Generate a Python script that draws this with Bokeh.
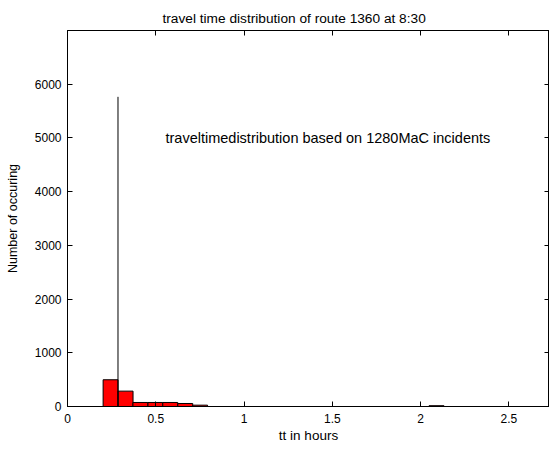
from bokeh.plotting import figure
from bokeh.models import LinearAxis, FixedTicker, Label, Range1d
from bokeh.embed import file_html
from bokeh.resources import INLINE

# ---- data ----
bin_centers = [0.244, 0.329, 0.413, 0.498, 0.582, 0.667, 0.751, 2.09]
bin_counts = [498, 286, 75, 75, 75, 56, 25, 15]
bin_width = 0.0845
spike_x = [0.286]
spike_count = [5765]
x_ticks = [0, 0.5, 1, 1.5, 2, 2.5]
x_tick_labels = ["0", "0.5", "1", "1.5", "2", "2.5"]
y_ticks = [0, 1000, 2000, 3000, 4000, 5000, 6000]
title_text = "travel time distribution of route 1360 at 8:30"
note_text = "traveltimedistribution based on 1280MaC incidents"
note_x, note_y = 0.555, 5000

FONT = "Liberation Sans"

p = figure(width=549, height=448, output_backend="svg", toolbar_location=None,
           x_range=Range1d(0, 2.73), y_range=Range1d(0, 7000),
           min_border_left=67, min_border_right=0, min_border_top=30, min_border_bottom=42)
p.title.text = title_text
p.title.align = "left"
p.title.offset = 95
p.title.text_font = FONT
p.title.text_font_size = "13.7px"
p.title.text_font_style = "normal"
p.title.text_color = "black"
p.grid.visible = False
p.outline_line_color = "black"
p.outline_line_width = 1
p.background_fill_color = "white"
p.border_fill_color = "white"

lefts = [c - bin_width / 2 for c in bin_centers]
rights = [c + bin_width / 2 for c in bin_centers]
p.quad(left=lefts, right=rights, bottom=0, top=bin_counts,
       fill_color="#ff0000", line_color="black", line_width=1)
p.segment(x0=spike_x, y0=[0] * len(spike_x), x1=spike_x, y1=spike_count,
          line_color="black", line_width=1)

p.add_layout(Label(x=note_x, y=note_y, text=note_text, text_font=FONT,
                   text_font_size="14.5px", text_baseline="middle", text_align="left",
                   text_color="black"))

xt = FixedTicker(ticks=x_ticks)
yt = FixedTicker(ticks=y_ticks)

for ax in p.xaxis:
    ax.ticker = xt
    ax.major_label_overrides = {t: l for t, l in zip(x_ticks, x_tick_labels)}
for ax in p.yaxis:
    ax.ticker = yt

p.xaxis.axis_label = "tt in hours"
p.yaxis.axis_label = "Number of occuring"
for ax in list(p.xaxis) + list(p.yaxis):
    ax.major_tick_in = 5
    ax.major_tick_out = 0
    ax.minor_tick_line_color = None
    ax.axis_line_color = "black"
    ax.major_tick_line_color = "black"
    ax.major_label_text_font = FONT
    ax.major_label_text_font_size = "12px"
    ax.major_label_text_color = "black"
    ax.axis_label_text_font = FONT
    ax.axis_label_text_font_style = "normal"
    ax.axis_label_text_color = "black"
p.xaxis.axis_label_text_font_size = "13.5px"
p.yaxis.axis_label_text_font_size = "12.5px"
p.xaxis.major_label_standoff = 7
p.xaxis.axis_label_standoff = 2
p.yaxis.major_label_standoff = 6
p.yaxis.axis_label_standoff = 12

top_ax = LinearAxis(ticker=xt, major_tick_in=5, major_tick_out=0,
                    minor_tick_line_color=None, axis_line_color="black",
                    major_label_overrides={t: "" for t in x_ticks},
                    major_label_standoff=0)
right_ax = LinearAxis(ticker=yt, major_tick_in=5, major_tick_out=0,
                      minor_tick_line_color=None, axis_line_color="black",
                      major_label_overrides={t: "" for t in y_ticks},
                      major_label_standoff=0)
p.add_layout(top_ax, "above")
p.add_layout(right_ax, "right")

open("out.html", "w").write(file_html(p, INLINE))
